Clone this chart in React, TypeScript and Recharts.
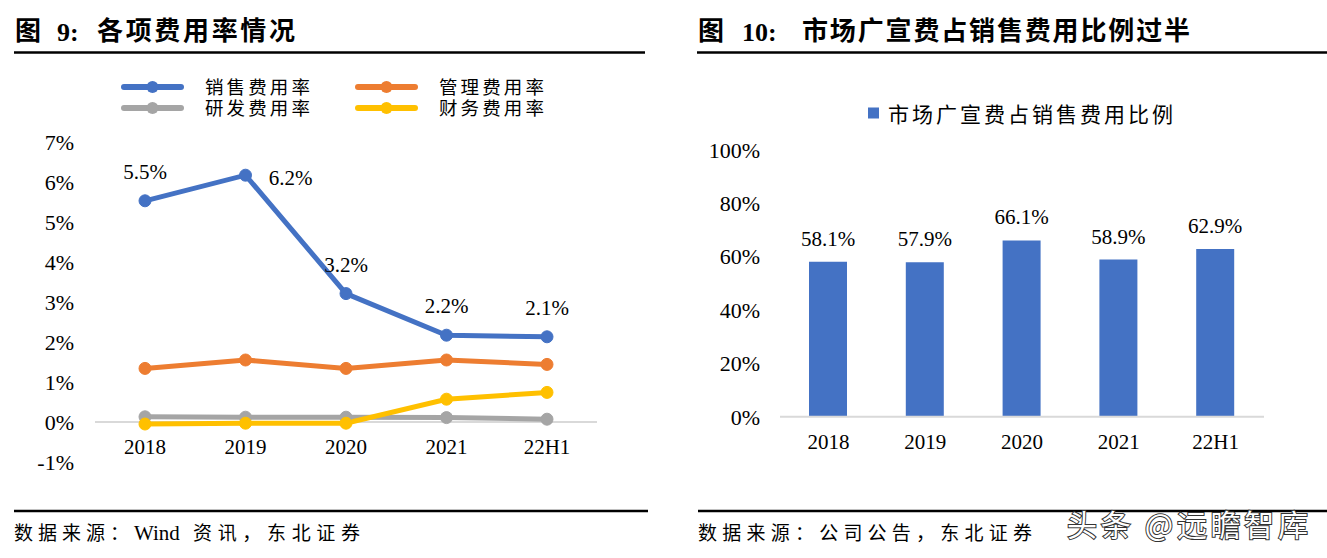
import React from 'react';
import {
  LineChart,
  Line,
  BarChart,
  Bar,
  XAxis,
  YAxis,
  ReferenceLine,
  LabelList,
} from 'recharts';

// 图9 各项费用率 (%)
const years = ['2018', '2019', '2020', '2021', '22H1'];
const salesRate = [5.53, 6.17, 3.21, 2.17, 2.13];
const adminRate = [1.34, 1.55, 1.34, 1.55, 1.44];
const rdRate = [0.13, 0.12, 0.12, 0.11, 0.07];
const financeRate = [-0.05, -0.03, -0.03, 0.57, 0.74];
const rateTicks = [-1, 0, 1, 2, 3, 4, 5, 6, 7];

// 图10 市场广宣费占销售费用比例 (%)
const adShare = [58.1, 57.9, 66.1, 58.9, 62.9];
const shareTicks = [0, 20, 40, 60, 80, 100];

const SERIES = [
  { key: 'sales', name: '销售费用率', color: '#4472C4' },
  { key: 'admin', name: '管理费用率', color: '#ED7D31' },
  { key: 'rd', name: '研发费用率', color: '#A5A5A5' },
  { key: 'finance', name: '财务费用率', color: '#FFC000' },
];

const rateData = years.map((year, i) => ({
  year,
  sales: salesRate[i],
  admin: adminRate[i],
  rd: rdRate[i],
  finance: financeRate[i],
}));

const shareData = years.map((year, i) => ({ year, share: adShare[i] }));

const SERIF = "'Liberation Serif', 'Times New Roman', 'Noto Sans CJK SC', serif";
const CJK = "'Noto Sans CJK SC', sans-serif";

const makeXTick = (shift: number) => ({ x, y, payload }: any) => (
  <text
    x={x}
    y={y + shift}
    textAnchor="middle"
    dominantBaseline="central"
    fontFamily={SERIF}
    fontSize={21}
    fill="#000"
  >
    {payload.value}
  </text>
);

const SalesLabel = ({ x, y, value, index }: any) => {
  const side = index === 1;
  return (
    <text
      x={side ? x + 45 : x}
      y={side ? y + 3 : y - 29}
      textAnchor="middle"
      dominantBaseline="central"
      fontFamily={SERIF}
      fontSize={21}
      fill="#000"
    >
      {`${Number(value).toFixed(1)}%`}
    </text>
  );
};

const ShareLabel = ({ x, y, width, value }: any) => (
  <text
    x={x + width / 2}
    y={y - 23}
    textAnchor="middle"
    dominantBaseline="central"
    fontFamily={SERIF}
    fontSize={21}
    fill="#000"
  >
    {`${Number(value).toFixed(1)}%`}
  </text>
);

const yTick = { fontFamily: SERIF, fontSize: 22, fill: '#000' };

const LegendIcon = ({ x, y, color }: any) => (
  <g>
    <line x1={x} y1={y} x2={x + 57} y2={y} stroke={color} strokeWidth={6} strokeLinecap="round" />
    <circle cx={x + 28.5} cy={y} r={6} fill={color} />
  </g>
);

// one text per legend column, the two rows as tspans
const LegendColumn = ({ x, top, bottom }: any) => (
  <text fontFamily={CJK} fontSize={18.5} fill="#000">
    <tspan x={x + 81} y={87 + 6.5} textLength={105} lengthAdjust="spacing">
      {top.name}
    </tspan>
    <tspan x={x + 81} y={108 + 6.5} textLength={105} lengthAdjust="spacing">
      {bottom.name}
    </tspan>
  </text>
);

export default function App() {
  return (
    <div
      style={{
        position: 'absolute',
        left: 0,
        top: 0,
        width: 1327,
        height: 558,
        background: '#fff',
        overflow: 'hidden',
      }}
    >
      <div style={{ position: 'absolute', left: 0, top: 0 }}>
        <LineChart width={660} height={558} data={rateData} margin={{ top: 142, right: 63, bottom: 66, left: 0 }}>
          <XAxis
            dataKey="year"
            axisLine={false}
            tickLine={false}
            tickSize={0}
            tickMargin={0}
            height={30}
            padding={{ left: 50, right: 50 }}
            interval={0}
            tick={makeXTick(-15)}
          />
          <YAxis
            type="number"
            domain={[-1, 7]}
            ticks={rateTicks}
            interval={0}
            width={95}
            axisLine={false}
            tickLine={false}
            tickSize={0}
            tickMargin={21}
            tick={yTick}
            tickFormatter={(v) => `${v}%`}
          />
          <ReferenceLine y={0} stroke="#D9D9D9" strokeWidth={2} />
          {SERIES.map((s) => (
            <Line
              key={s.key}
              dataKey={s.key}
              name={s.name}
              stroke={s.color}
              strokeWidth={5}
              dot={{ r: 6, fill: s.color, stroke: s.color, strokeWidth: 1 }}
              activeDot={false}
              isAnimationActive={false}
            >
              {s.key === 'sales' && <LabelList dataKey="sales" content={SalesLabel} />}
            </Line>
          ))}
        </LineChart>
      </div>

      <div style={{ position: 'absolute', left: 660, top: 0 }}>
        <BarChart width={667} height={558} data={shareData} margin={{ top: 150, right: 63, bottom: 111.3, left: 0 }}>
          <XAxis
            dataKey="year"
            axisLine={{ stroke: '#D9D9D9', strokeWidth: 2 }}
            tickLine={false}
            tickSize={0}
            tickMargin={0}
            height={30}
            interval={0}
            tick={makeXTick(25)}
          />
          <YAxis
            type="number"
            domain={[0, 100]}
            ticks={shareTicks}
            interval={0}
            width={120}
            axisLine={false}
            tickLine={false}
            tickSize={0}
            tickMargin={20}
            tick={yTick}
            tickFormatter={(v) => `${v}%`}
          />
          <Bar dataKey="share" name="市场广宣费占销售费用比例" fill="#4472C4" barSize={38} isAnimationActive={false}>
            <LabelList dataKey="share" content={ShareLabel} />
          </Bar>
        </BarChart>
      </div>

      <svg
        width={1327}
        height={558}
        style={{ position: 'absolute', left: 0, top: 0, pointerEvents: 'none' }}
      >
        {/* titles */}
        <g fontWeight="bold" fill="#000">
          <text x={15} y={40} fontFamily={CJK} fontSize={26}>图</text>
          <text x={57} y={41} fontFamily={SERIF} fontSize={26}>9:</text>
          <text x={97} y={40} fontFamily={CJK} fontSize={26} textLength={198} lengthAdjust="spacing">
            各项费用率情况
          </text>
          <text x={698} y={40} fontFamily={CJK} fontSize={26}>图</text>
          <text x={742} y={41} fontFamily={SERIF} fontSize={26}>10:</text>
          <text x={802} y={40} fontFamily={CJK} fontSize={26} textLength={388} lengthAdjust="spacing">
            市场广宣费占销售费用比例过半
          </text>
        </g>
        <line x1={14} y1={52.5} x2={645} y2={52.5} stroke="#000" strokeWidth={2.5} />
        <line x1={697} y1={52.5} x2={1327} y2={52.5} stroke="#000" strokeWidth={2.5} />

        {/* legend, left */}
        <LegendIcon x={124} y={87} color={SERIES[0].color} />
        <LegendIcon x={358} y={87} color={SERIES[1].color} />
        <LegendIcon x={124} y={108} color={SERIES[2].color} />
        <LegendIcon x={358} y={108} color={SERIES[3].color} />
        <LegendColumn x={124} top={SERIES[0]} bottom={SERIES[2]} />
        <LegendColumn x={358} top={SERIES[1]} bottom={SERIES[3]} />

        {/* legend, right */}
        <rect x={868} y={107.5} width={11} height={11} fill="#4472C4" />
        <text
          x={888}
          y={113}
          dominantBaseline="central"
          fontFamily={CJK}
          fontSize={21}
          textLength={285}
          lengthAdjust="spacing"
          fill="#000"
        >
          市场广宣费占销售费用比例
        </text>

        {/* sources */}
        <line x1={14} y1={511} x2={648} y2={511} stroke="#000" strokeWidth={2.5} />
        <line x1={698} y1={511} x2={1327} y2={511} stroke="#000" strokeWidth={2.5} />
        <g fontSize={19} fill="#000">
          <text x={14} y={540} fontFamily={CJK} textLength={115} lengthAdjust="spacing">数据来源：</text>
          <text x={134} y={540} fontFamily={SERIF} fontSize={21}>Wind</text>
          <text x={193} y={540} fontFamily={CJK} textLength={167} lengthAdjust="spacing">资讯，东北证券</text>
          <text x={698} y={540} fontFamily={CJK} textLength={334} lengthAdjust="spacing">
            数据来源：公司公告，东北证券
          </text>
        </g>
        <text
          x={1067}
          y={536}
          fontFamily={CJK}
          fontSize={30}
          textLength={241}
          lengthAdjust="spacing"
          fill="#fff"
          stroke="#333"
          strokeWidth={2}
          style={{ paintOrder: 'stroke' }}
        >
          头条 @远瞻智库
        </text>
      </svg>
    </div>
  );
}
